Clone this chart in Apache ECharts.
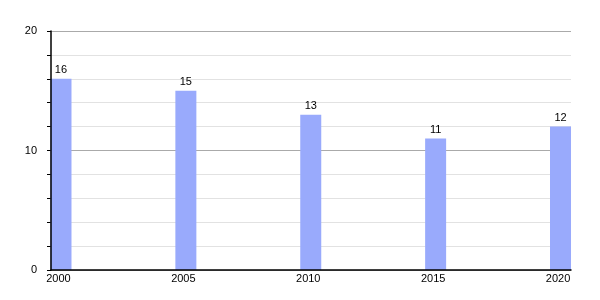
<!DOCTYPE html>
<html>
<head>
<meta charset="utf-8">
<script src="https://cdn.jsdelivr.net/npm/echarts@6/dist/echarts.min.js"></script>
<style>html,body{margin:0;padding:0;background:#fff;}#c{width:600px;height:300px;}</style>
</head>
<body>
<div id="c"></div>
<script>
const years = [2000, 2005, 2010, 2015, 2020];
const values = [16, 15, 13, 11, 12];
const yTicks = [0, 10, 20];

const chart = echarts.init(document.getElementById('c'), null, {renderer: 'canvas'});
chart.setOption({
  animation: false,
  backgroundColor: '#fff',
  textStyle: {fontFamily: 'Liberation Sans, Arial, sans-serif'},
  grid: {left: 51, right: 29, top: 31, bottom: 30, containLabel: false},
  xAxis: {
    type: 'value',
    z: 5,
    min: 1999.6,
    max: 2020.42,
    axisLine: {show: true, lineStyle: {color: '#000', width: 1.5}},
    axisTick: {show: false},
    splitLine: {show: false},
    axisLabel: {
      customValues: years,
      color: '#000',
      fontSize: 11,
      margin: 3,
      padding: [0, 5, 0, 0],
      formatter: v => String(v)
    }
  },
  yAxis: [{
    type: 'value',
    z: 0,
    min: 0,
    max: 20,
    interval: 10,
    axisLine: {show: false},
    axisTick: {show: true, inside: false, length: 4, lineStyle: {color: '#000'}},
    minorTick: {show: true, splitNumber: 5, length: 4, lineStyle: {color: '#000'}},
    splitLine: {show: true, lineStyle: {color: '#aaa', width: 1}},
    minorSplitLine: {show: true, lineStyle: {color: '#e2e2e2', width: 1}},
    axisLabel: {color: '#000', fontSize: 11, margin: 14}
  }, {
    type: 'value',
    position: 'left',
    z: 5,
    min: 0,
    max: 20,
    interval: 10,
    axisLine: {show: true, onZero: false, lineStyle: {color: '#000', width: 1.5}},
    axisTick: {show: false},
    splitLine: {show: false},
    axisLabel: {show: false}
  }],
  series: [{
    type: 'bar',
    z: 2,
    yAxisIndex: 0,
    data: years.map((y, i) => [y, values[i]]),
    barWidth: 21,
    itemStyle: {color: '#99aafc'},
    label: {show: true, position: 'top', color: '#000', fontSize: 11, distance: 3}
  }]
});
</script>
</body>
</html>
